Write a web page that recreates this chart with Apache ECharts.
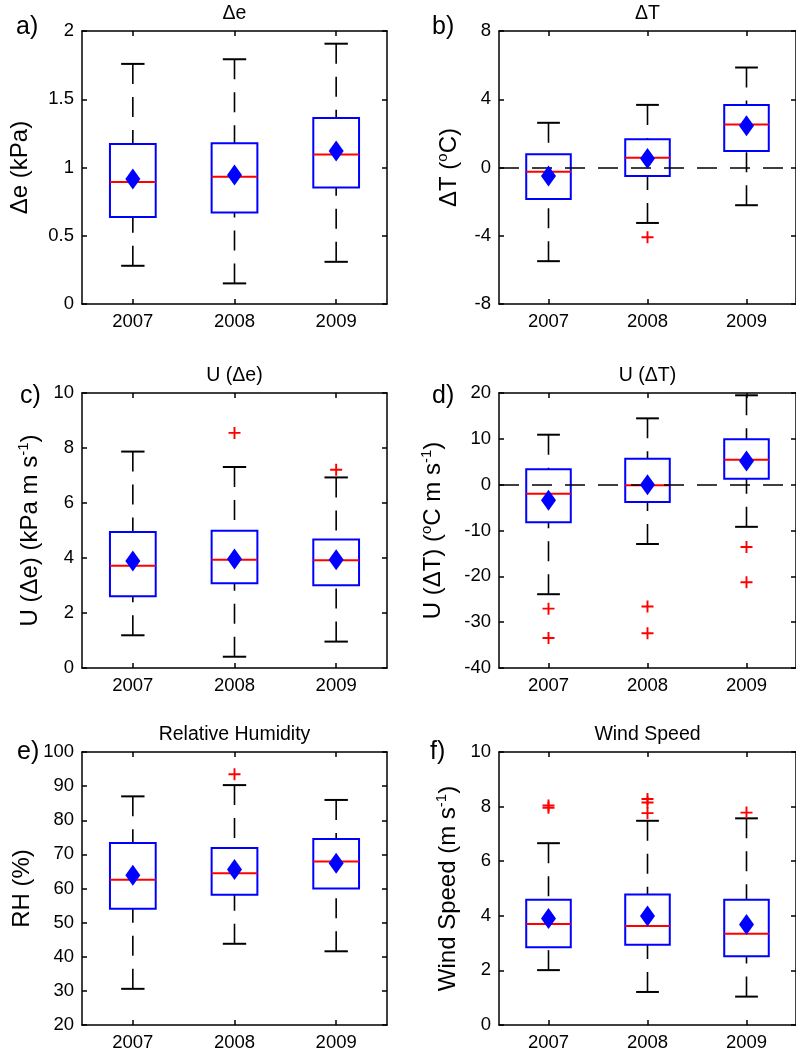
<!DOCTYPE html>
<html><head><meta charset="utf-8">
<script src="https://cdn.jsdelivr.net/npm/echarts@6/dist/echarts.min.js"></script>
<style>html,body{margin:0;padding:0;background:#fff}#c{width:796px;height:1055px}</style>
</head><body><div id="c"></div>
<script>
const years = ['2007', '2008', '2009'];

// each box: [lower whisker, Q1, median, Q3, upper whisker]
// a) Δe (kPa)
const deBox = [[0.28, 0.638, 0.894, 1.172, 1.759], [0.151, 0.670, 0.933, 1.177, 1.793], [0.309, 0.853, 1.096, 1.362, 1.907]];
const deMean = [0.916, 0.945, 1.12];
const deOut = [[], [], []];
// b) ΔT (°C)
const dtBox = [[-5.49, -1.84, -0.245, 0.77, 2.62], [-3.25, -0.5, 0.57, 1.65, 3.67], [-2.21, 0.96, 2.52, 3.67, 5.86]];
const dtMean = [-0.5, 0.53, 2.44];
const dtOut = [[], [-4.09], []];
// c) U(Δe) (kPa m s-1)
const udeBox = [[1.19, 2.61, 3.72, 4.945, 7.87], [0.41, 3.08, 3.94, 4.99, 7.31], [0.96, 3.01, 3.92, 4.67, 6.93]];
const udeMean = [3.89, 3.96, 3.94];
const udeOut = [[], [8.55], [7.21]];
// d) U(ΔT) (°C m s-1)
const udtBox = [[-23.9, -8.2, -1.96, 3.35, 10.9], [-12.95, -3.8, -0.15, 5.67, 14.47], [-9.2, 1.3, 5.45, 9.9, 19.5]];
const udtMean = [-3.4, 0.0, 5.16];
const udtOut = [[-27.05, -33.45], [-26.6, -32.4], [-13.6, -21.3]];
// e) Relative humidity (%)
const rhBox = [[30.6, 54.05, 62.6, 73.3, 87.0], [43.8, 58.15, 64.5, 71.9, 90.3], [41.6, 60.0, 67.9, 74.5, 85.95]];
const rhMean = [63.9, 65.6, 67.4];
const rhOut = [[], [93.5], []];
// f) Wind speed (m s-1)
const wsBox = [[2.01, 2.85, 3.70, 4.59, 6.66], [1.21, 2.94, 3.63, 4.78, 7.48], [1.04, 2.52, 3.34, 4.59, 7.57]];
const wsMean = [3.90, 3.99, 3.68];
const wsOut = [[8.04, 7.96], [8.28, 8.15, 7.76], [7.78]];

const yTicksA = [0, 2, 0.5], yTicksB = [-8, 8, 4], yTicksC = [0, 10, 2];
const yTicksD = [-40, 20, 10], yTicksE = [20, 100, 10], yTicksF = [0, 10, 2];

const FF = "'Liberation Sans', Arial, Helvetica, sans-serif";

const panels = [
  {letter: 'a)', title: 'Δe', yname: '{n|Δe (kPa)}', box: deBox, mean: deMean, out: deOut, ticks: yTicksA, zero: false,
   left: 82, top: 31, height: 273, nameGap: 48, lx: 16, ly: 15},
  {letter: 'b)', title: 'ΔT', yname: '{n|ΔT (}{s|o}{n|C)}', box: dtBox, mean: dtMean, out: dtOut, ticks: yTicksB, zero: true,
   left: 499, top: 31, height: 273, nameGap: 36, lx: 432, ly: 15},
  {letter: 'c)', title: 'U (Δe)', yname: '{n|U (Δe) (kPa m s}{s|-1}{n|)}', box: udeBox, mean: udeMean, out: udeOut, ticks: yTicksC, zero: false,
   left: 82, top: 393, height: 275, nameGap: 38, lx: 20, ly: 384},
  {letter: 'd)', title: 'U (ΔT)', yname: '{n|U (ΔT) (}{s|o}{n|C m s}{s|-1}{n|)}', box: udtBox, mean: udtMean, out: udtOut, ticks: yTicksD, zero: true,
   left: 499, top: 393, height: 275, nameGap: 52, lx: 432, ly: 384},
  {letter: 'e)', title: 'Relative Humidity', yname: '{n|RH (%)}', box: rhBox, mean: rhMean, out: rhOut, ticks: yTicksE, zero: false,
   left: 82, top: 752, height: 273, nameGap: 46, lx: 17, ly: 740},
  {letter: 'f)', title: 'Wind Speed', yname: '{n|Wind Speed (m s}{s|-1}{n|)}', box: wsBox, mean: wsMean, out: wsOut, ticks: yTicksF, zero: false,
   left: 499, top: 752, height: 273, nameGap: 37, lx: 430, ly: 740}
];

const axisLine = {show: true, onZero: false, lineStyle: {color: '#000', width: 1.5}};
const tickIn = {show: true, inside: true, length: 5, alignWithLabel: true, lineStyle: {color: '#000', width: 1.5}};

function renderBox(params, api) {
  const i = api.value(0);
  const lo = api.coord([i, api.value(1)]);
  const q1 = api.coord([i, api.value(2)]);
  const md = api.coord([i, api.value(3)]);
  const q3 = api.coord([i, api.value(4)]);
  const hi = api.coord([i, api.value(5)]);
  const band = api.size([1, 0])[0];
  const bw = band * 0.45, cw = band * 0.23;
  const x = md[0];
  const dash = {stroke: '#000', lineWidth: 1.6, lineDash: [20, 13]};
  const cap = {stroke: '#000', lineWidth: 2};
  return {type: 'group', children: [
    {type: 'line', shape: {x1: x, y1: hi[1], x2: x, y2: q3[1]}, style: dash},
    {type: 'line', shape: {x1: x, y1: lo[1], x2: x, y2: q1[1]}, style: dash},
    {type: 'line', shape: {x1: x - cw / 2, y1: hi[1], x2: x + cw / 2, y2: hi[1]}, style: cap},
    {type: 'line', shape: {x1: x - cw / 2, y1: lo[1], x2: x + cw / 2, y2: lo[1]}, style: cap},
    {type: 'rect', shape: {x: x - bw / 2, y: q3[1], width: bw, height: q1[1] - q3[1]}, style: {fill: '#fff', stroke: '#0000ff', lineWidth: 2}},
    {type: 'line', shape: {x1: x - bw / 2, y1: md[1], x2: x + bw / 2, y2: md[1]}, style: {stroke: '#ff0000', lineWidth: 2}}
  ]};
}

const PLUS = 'path://M0,4.2H10V5.8H0Z M4.2,0H5.8V10H4.2Z';

const grid = [], xAxis = [], yAxis = [], series = [], graphic = [];
panels.forEach((p, k) => {
  grid.push({left: p.left, top: p.top, width: 305, height: p.height, containLabel: false});
  xAxis.push({type: 'category', gridIndex: k, position: 'bottom', data: years,
    axisLine, axisTick: tickIn, splitLine: {show: false},
    axisLabel: {color: '#000', fontSize: 18.5, fontFamily: FF, margin: 8}});
  xAxis.push({type: 'category', gridIndex: k, position: 'top', data: years,
    axisLine, axisTick: tickIn, splitLine: {show: false}, axisLabel: {show: false},
    name: p.title, nameLocation: 'middle', nameGap: 7,
    nameTextStyle: {color: '#000', fontSize: 19.5, fontFamily: FF}});
  const [mn, mx, iv] = p.ticks;
  yAxis.push({type: 'value', gridIndex: k, position: 'left', min: mn, max: mx, interval: iv,
    axisLine, axisTick: {show: true, inside: true, length: 5, lineStyle: {color: '#000', width: 1.5}},
    splitLine: {show: false},
    axisLabel: {color: '#000', fontSize: 18.5, fontFamily: FF, margin: 8},
    name: p.yname, nameLocation: 'middle', nameGap: p.nameGap, nameRotate: 90,
    nameTextStyle: {color: '#000', fontSize: 24, fontFamily: FF,
      rich: {n: {fontSize: 24, fontFamily: FF, color: '#000', lineHeight: 28},
             s: {fontSize: 15, fontFamily: FF, color: '#000', lineHeight: 15, verticalAlign: 'top'}}}});
  yAxis.push({type: 'value', gridIndex: k, position: 'right', min: mn, max: mx, interval: iv,
    axisLine, axisTick: {show: true, inside: true, length: 5, lineStyle: {color: '#000', width: 1.5}},
    splitLine: {show: false}, axisLabel: {show: false}});

  series.push({type: 'custom', xAxisIndex: 2 * k, yAxisIndex: 2 * k, z: 2,
    data: p.box.map((b, i) => [i].concat(b)),
    encode: {x: 0, y: [1, 2, 3, 4, 5]}, renderItem: renderBox, silent: true, animation: false});
  const outPts = [];
  p.out.forEach((arr, i) => arr.forEach(v => outPts.push([i, v])));
  const outSeries = {type: 'scatter', xAxisIndex: 2 * k, yAxisIndex: 2 * k, z: 4,
    data: outPts, symbol: PLUS, symbolSize: 12, itemStyle: {color: '#ff0000', opacity: 1}, silent: true, animation: false};
  if (p.zero) {
    outSeries.markLine = {silent: true, symbol: 'none', animation: false, z: 5,
      label: {show: false}, lineStyle: {color: '#000', type: [20, 13], width: 1.6, opacity: 1},
      emphasis: {disabled: true}, data: [{yAxis: 0}]};
  }
  series.push(outSeries);
  series.push({type: 'scatter', xAxisIndex: 2 * k, yAxisIndex: 2 * k, z: 10,
    data: p.mean.map((v, i) => [i, v]), symbol: 'diamond', symbolSize: [15, 21],
    itemStyle: {color: '#0000ff', opacity: 1}, silent: true, animation: false});

  graphic.push({type: 'text', left: p.lx, top: p.ly, silent: true,
    style: {text: p.letter, font: '25px ' + FF, fill: '#000'}});
});

const chart = echarts.init(document.getElementById('c'), null, {renderer: 'canvas'});
chart.setOption({backgroundColor: '#fff', animation: false, grid, xAxis, yAxis, series, graphic, tooltip: {show: false}});
</script>
</body></html>
